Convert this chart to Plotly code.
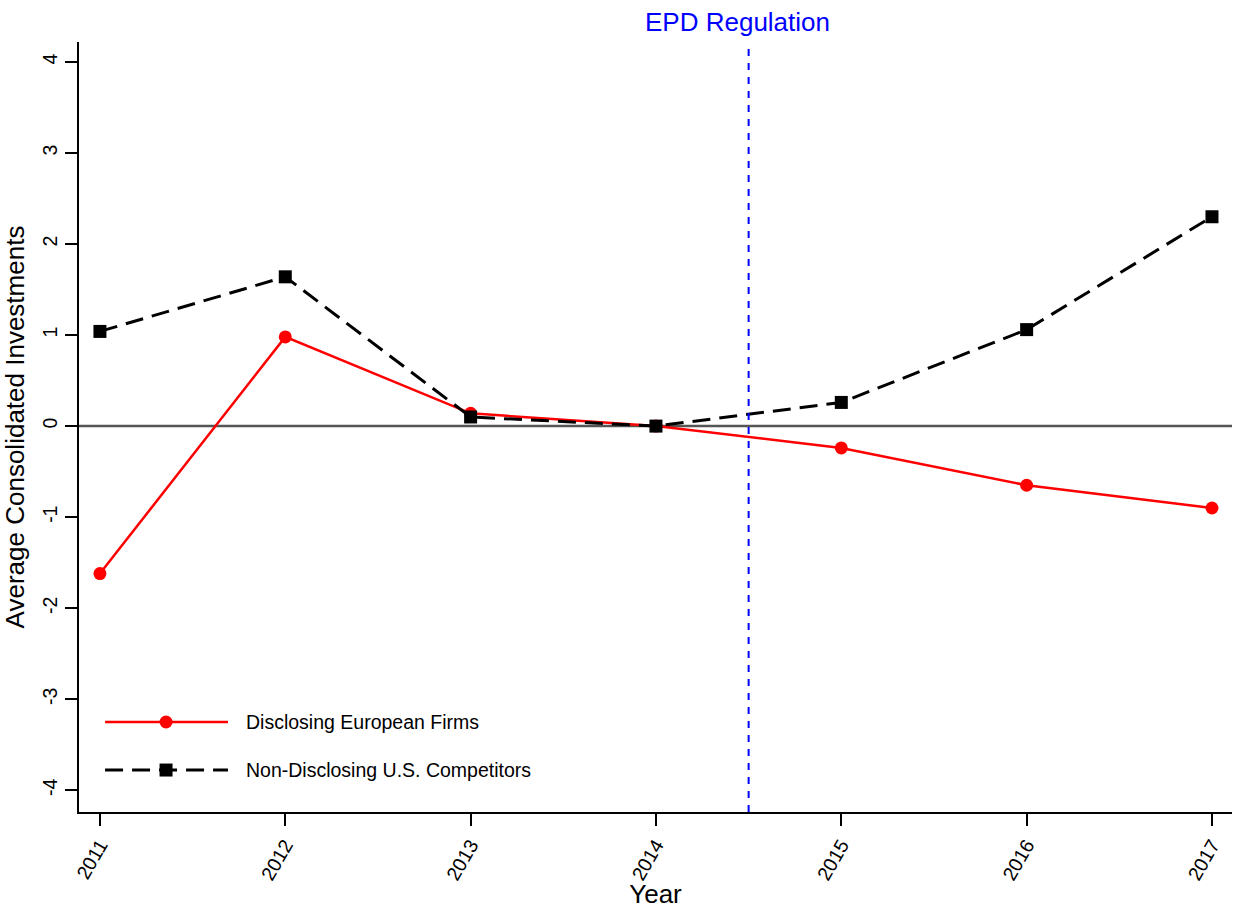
import plotly.graph_objects as go

years = [2011, 2012, 2013, 2014, 2015, 2016, 2017]
european = [-1.62, 0.98, 0.14, 0.0, -0.24, -0.65, -0.90]
us = [1.04, 1.64, 0.10, 0.0, 0.26, 1.06, 2.30]
y_ticks = [-4, -3, -2, -1, 0, 1, 2, 3, 4]
series_names = ["Disclosing European Firms", "Non-Disclosing U.S. Competitors"]
regulation_x = 2014.5
regulation_label = "EPD Regulation"

FONT = "Liberation Sans, Arial, sans-serif"

fig = go.Figure()
fig.add_trace(go.Scatter(
    x=years, y=european, mode="lines+markers", name=series_names[0],
    line=dict(color="#ff0000", width=2.5),
    marker=dict(symbol="circle", size=13, color="#ff0000"),
    showlegend=False,
))
fig.add_trace(go.Scatter(
    x=years, y=us, mode="lines+markers", name=series_names[1],
    line=dict(color="#000000", width=3, dash="18px,9px"),
    marker=dict(symbol="square", size=13, color="#000000"),
    showlegend=False,
))

shapes = []
shapes.append(dict(type="line", xref="paper", yref="y", x0=0, x1=1, y0=0, y1=0,
                   line=dict(color="#555555", width=2.5), layer="below"))
shapes.append(dict(type="line", xref="x", yref="paper", x0=regulation_x, x1=regulation_x,
                   y0=0, y1=1, line=dict(color="#0000ff", width=2, dash="7px,7px")))

leg_x0, leg_x1, leg_xm, leg_tx = 0.0226, 0.1292, 0.0755, 0.1457
leg_y = [0.1169, 0.0545]
shapes.append(dict(type="line", xref="paper", yref="paper", x0=leg_x0, x1=leg_x1,
                   y0=leg_y[0], y1=leg_y[0], line=dict(color="#ff0000", width=2.5)))
shapes.append(dict(type="circle", xref="paper", yref="paper", xsizemode="pixel", ysizemode="pixel",
                   xanchor=leg_xm, yanchor=leg_y[0], x0=-6.5, x1=6.5, y0=-6.5, y1=6.5,
                   fillcolor="#ff0000", line=dict(width=0)))
shapes.append(dict(type="line", xref="paper", yref="paper", x0=leg_x0, x1=leg_x1,
                   y0=leg_y[1], y1=leg_y[1], line=dict(color="#000000", width=3, dash="18px,9px")))
shapes.append(dict(type="rect", xref="paper", yref="paper", xsizemode="pixel", ysizemode="pixel",
                   xanchor=leg_xm, yanchor=leg_y[1], x0=-6.5, x1=6.5, y0=-6.5, y1=6.5,
                   fillcolor="#000000", line=dict(width=0)))

annotations = [
    dict(text=regulation_label, x=regulation_x, xref="x", y=1, yref="paper",
         xanchor="center", yanchor="bottom", xshift=-11, yshift=3, showarrow=False,
         font=dict(family=FONT, size=26, color="#0000ff")),
    dict(text=series_names[0], x=0.1430, y=leg_y[0], xref="paper", yref="paper",
         xanchor="left", yanchor="middle", showarrow=False,
         font=dict(family=FONT, size=19.5, color="#000000")),
    dict(text=series_names[1], x=0.1430, y=leg_y[1], xref="paper", yref="paper",
         xanchor="left", yanchor="middle", showarrow=False,
         font=dict(family=FONT, size=19.5, color="#000000")),
]

fig.update_layout(
    width=1234, height=909,
    margin=dict(l=79, r=2, t=42, b=97),
    paper_bgcolor="white", plot_bgcolor="white",
    font=dict(family=FONT, color="#000000"),
    shapes=shapes, annotations=annotations,
    showlegend=False,
)
fig.update_xaxes(
    range=[2010.887, 2017.108], tickmode="array", tickvals=years,
    ticktext=[str(y) for y in years], tickangle=-60,
    showline=True, linecolor="#000000", linewidth=2,
    ticks="outside", ticklen=12, tickwidth=2, tickcolor="#000000",
    showgrid=False, zeroline=False,
    tickfont=dict(family=FONT, size=19.5),
    title=dict(text="Year", font=dict(family=FONT, size=26), standoff=4),
)
fig.update_yaxes(
    range=[-4.24, 4.22], tickmode="array", tickvals=y_ticks,
    ticktext=[str(v) for v in y_ticks], tickangle=-90,
    showline=True, linecolor="#000000", linewidth=2,
    ticks="outside", ticklen=12, tickwidth=2, tickcolor="#000000",
    showgrid=False, zeroline=False,
    tickfont=dict(family=FONT, size=19.5),
    title=dict(text="Average Consolidated Investments", font=dict(family=FONT, size=26), standoff=8),
)

fig.write_html("out.html", config={"displayModeBar": False},
               post_script="document.body.style.margin='0';document.body.style.overflow='hidden';")
